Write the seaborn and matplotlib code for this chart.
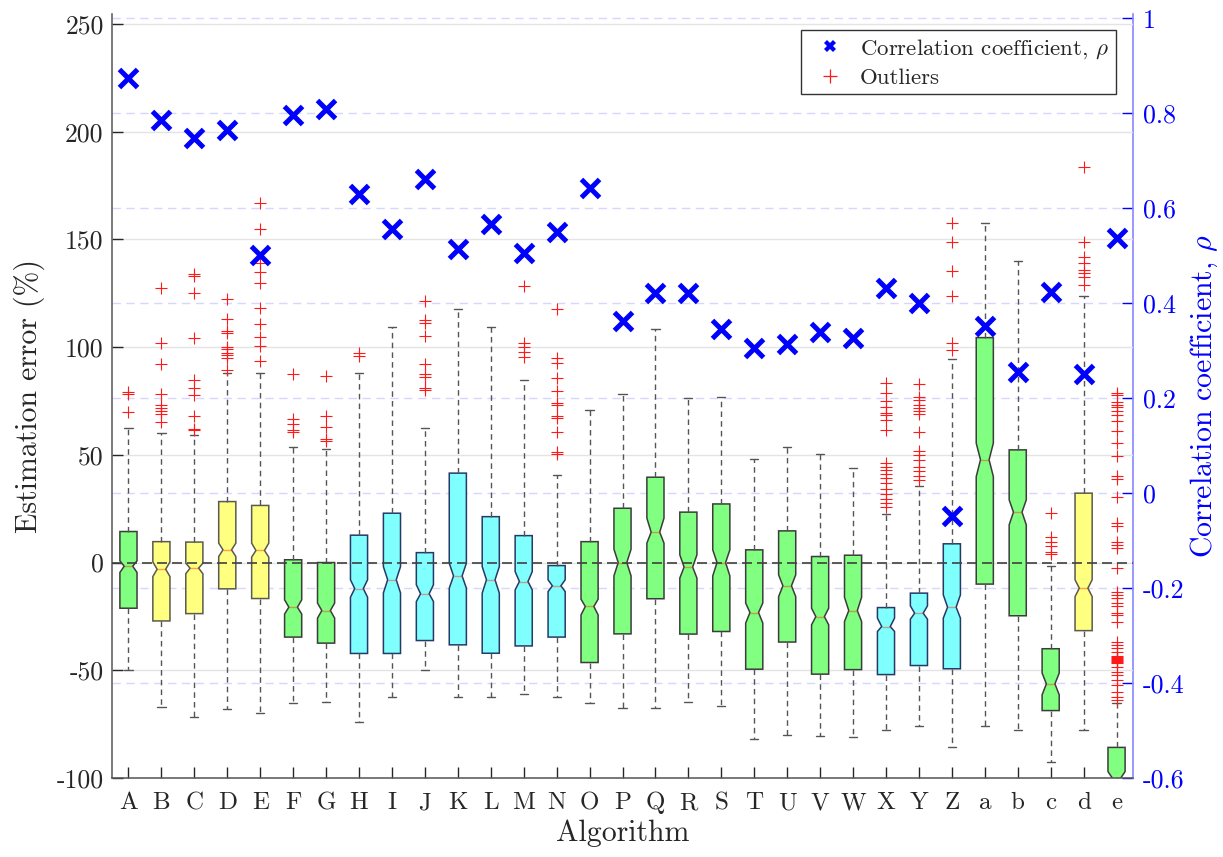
import numpy as np
import matplotlib
matplotlib.use("Agg")
import matplotlib.pyplot as plt
import seaborn as sns
from matplotlib.lines import Line2D

# ---------------- data ----------------
algorithms = list("ABCDEFGHIJKLMNOPQRSTUVWXYZ") + list("abcde")
groups = ["g", "y", "y", "y", "y", "g", "g", "c", "c", "c", "c", "c", "c", "c",
          "g", "g", "g", "g", "g", "g", "g", "g", "g", "c", "c", "c", "g", "g", "g", "y", "g"]

q3 = [14.4, 9.7, 9.5, 28.3, 26.5, 1.3, 0.0, 12.7, 22.9, 4.6, 41.5, 21.3, 12.5, -1.4,
      9.7, 25.2, 39.6, 23.4, 27.2, 5.9, 14.7, 2.8, 3.4, -20.9, -14.2, 8.7,
      104.4, 52.3, -40.0, 32.2, -85.8]
median = [-1.7, -3.1, -2.6, 5.9, 5.6, -20.7, -22.3, -12.1, -8.0, -14.5, -6.2, -8.0, -8.8, -10.8,
          -20.4, 0.0, 14.1, -2.1, 0.0, -23.2, -10.8, -25.1, -22.3, -29.7, -23.5, -20.7,
          47.7, 23.4, -56.3, -11.9, -100.0]
q1 = [-21.2, -27.1, -23.7, -12.2, -16.7, -34.6, -37.4, -42.2, -42.2, -36.2, -38.2, -42.1, -38.7, -34.6,
      -46.4, -33.1, -16.8, -33.2, -32.0, -49.5, -36.9, -51.8, -49.7, -52.0, -47.8, -49.3,
      -10.0, -24.7, -68.7, -31.6, -104.0]
notch_hi = [0.8, 0.3, -0.3, 9.0, 9.0, -17.3, -18.8, -8.0, -1.9, -10.3, -0.3, -1.9, -4.2, -8.0,
            -17.0, 6.2, 20.6, 3.6, 5.9, -18.8, -5.7, -21.2, -16.1, -25.8, -20.1, -15.0,
            55.4, 29.1, -51.3, -8.0, -97.0]
notch_lo = [-4.6, -6.5, -5.2, 2.8, 2.5, -23.9, -25.8, -16.1, -14.1, -18.1, -11.9, -14.2, -12.7, -13.5,
            -24.3, -6.2, 9.0, -7.2, -6.2, -28.1, -15.8, -28.9, -27.4, -32.0, -26.3, -25.8,
            39.9, 17.5, -61.4, -15.8, -103.0]
whisker_lo = [-49.8, -67.1, -71.6, -67.9, -69.9, -65.2, -64.8, -73.8, -62.5, -49.8, -62.2, -62.6, -60.9, -62.2,
              -65.0, -67.6, -67.6, -64.8, -66.8, -81.8, -80.1, -80.7, -81.0, -77.6, -75.8, -85.7,
              -76.0, -77.6, -92.6, -77.6, -105.0]
whisker_hi = [62.4, 60.3, 59.3, 88.2, 87.9, 53.8, 52.8, 88.2, 109.1, 62.4, 117.6, 109.1, 84.5, 40.7,
              70.9, 78.1, 108.4, 76.3, 76.7, 48.1, 53.8, 50.4, 44.1, 22.6, 35.3, 94.5,
              157.8, 140.0, -1.5, 123.8, -65.0]
outliers = [
    [79.2, 78.0, 70.0],
    [127.3, 102.1, 92.1, 78.3, 73.2, 71.9, 70.5, 69.0, 65.4],
    [134.0, 133.1, 125.3, 104.1, 84.5, 80.9, 77.7, 68.2, 62.2, 61.6],
    [122.2, 112.9, 107.5, 106.5, 99.9, 99.0, 97.4, 96.2, 95.0, 89.4],
    [167.0, 155.0, 139.0, 135.0, 129.7, 118.1, 110.8, 104.6, 100.6, 93.6],
    [87.4, 66.5, 64.2, 61.6, 60.8],
    [86.6, 68.1, 63.1, 57.3, 56.6],
    [97.4, 95.9],
    [],
    [121.4, 112.6, 111.4, 105.2, 92.1, 87.4, 86.3, 80.9, 80.1],
    [],
    [],
    [128.5, 102.1, 100.0, 97.5, 95.3],
    [117.6, 94.8, 92.8, 85.6, 79.8, 74.0, 73.2, 68.2, 67.0, 60.5, 51.5, 50.3],
    [], [], [], [], [], [], [], [], [],
    [83.5, 78.6, 75.0, 72.4, 69.3, 68.5, 66.2, 61.6, 46.1, 44.5, 43.0, 41.2, 39.2, 36.9,
     34.1, 31.8, 29.5, 27.5, 26.0],
    [82.9, 77.0, 75.5, 73.2, 71.6, 70.4, 69.0, 60.5, 51.8, 50.0, 47.7, 44.5, 42.6, 40.4, 38.4],
    [157.8, 149.0, 135.2, 123.6, 102.1, 98.7],
    [], [],
    [22.9, 11.8, 9.7, 7.7, 5.1, 3.9],
    [183.8, 149.0, 142.0, 139.2, 135.6, 134.3, 132.7, 128.9],
    [78.6, 77.7, 74.3, 73.2, 72.0, 70.4, 68.4, 65.7, 61.1, 55.4, 49.5, 40.3, 39.0, 30.6,
     18.3, 17.0, 9.7, 8.2, 6.7, -2.6, -13.5, -15.0, -16.6, -18.9, -20.4, -23.5, -24.3, -27.4,
     -36.7, -38.2, -39.7, -41.3, -43.6, -44.0, -44.4, -44.8, -45.2, -45.6, -46.0, -46.7,
     -48.3, -50.6, -52.1, -54.4, -56.8, -59.9, -62.2, -64.0],
]
rho = [0.874, 0.786, 0.748, 0.765, 0.501, 0.796, 0.809, 0.630, 0.556, 0.661, 0.515, 0.566, 0.505, 0.549,
       0.642, 0.362, 0.421, 0.421, 0.346, 0.305, 0.315, 0.339, 0.326, 0.433, 0.401, -0.048,
       0.351, 0.254, 0.423, 0.251, 0.538]

left_ticks = [-100, -50, 0, 50, 100, 150, 200, 250]
rho_ticks = [-0.6, -0.4, -0.2, 0, 0.2, 0.4, 0.6, 0.8, 1]

fill_colors = {"g": "#80FF80", "y": "#FFFF80", "c": "#80FFFF"}
edge_colors = {"g": "#3c3c3c", "y": "#5a5a50", "c": "#263a66"}

# ---------------- style ----------------
sns.set_style("white")
plt.rcParams.update({
    "font.family": ["cmr10", "DejaVu Serif"],
    "mathtext.fontset": "cm",
    "axes.unicode_minus": False,
    "axes.formatter.use_mathtext": True,
})

fig = plt.figure(figsize=(12.23, 8.57), dpi=100)
rect = [112 / 1223, 1 - 778 / 857, (1133 - 112) / 1223, 764 / 857]

ax_r = fig.add_axes(rect)                 # right axis: rho scale + blue grid
ax = fig.add_axes(rect, sharex=ax_r)      # box plots (left scale)
ax_c = fig.add_axes(rect, sharex=ax_r)    # rho markers on top

positions = np.arange(len(algorithms))

# ---- right (rho) axis ----
ax_r.set_ylim(-0.6, 1.009)
ax_r.set_yticks(rho_ticks)
ax_r.set_yticklabels([f"{t:g}" for t in rho_ticks])
ax_r.yaxis.tick_right()
ax_r.yaxis.set_label_position("right")
ax_r.tick_params(axis="y", direction="in", length=8, width=1, colors="#0000FF",
                 labelsize=18.7, pad=7)
ax_r.tick_params(axis="x", bottom=False, labelbottom=False)
ax_r.grid(axis="y", color="#d6d6ff", ls=(0, (6, 4)), lw=1)
ax_r.grid(axis="x", visible=False)
for s in ["left", "top", "bottom"]:
    ax_r.spines[s].set_visible(False)
ax_r.spines["right"].set_color("#8888ff")
ax_r.spines["right"].set_linewidth(1.2)
ax_r.set_ylabel(r"Correlation coefficient, $\rho$", color="#0000FF", fontsize=21.5, labelpad=3)

# ---- box axis ----
ax.patch.set_visible(False)
stats = []
for i in range(len(algorithms)):
    stats.append(dict(med=median[i], q1=q1[i], q3=q3[i], whislo=whisker_lo[i],
                      whishi=whisker_hi[i], cilo=notch_lo[i], cihi=notch_hi[i],
                      fliers=np.array(outliers[i]), label=algorithms[i]))

bp = ax.bxp(stats, positions=positions, widths=0.52, shownotches=True, patch_artist=True,
            showcaps=True, capwidths=0.25, manage_ticks=False,
            boxprops=dict(lw=1.1),
            whiskerprops=dict(color="#555555", ls=(0, (4, 3)), lw=1.0),
            capprops=dict(color="#555555", lw=1.0),
            medianprops=dict(color="#ff3000", alpha=0.45, lw=1.0),
            flierprops=dict(marker="+", markeredgecolor="#ff1a1a", markersize=8.5,
                            markeredgewidth=0.8, ls="none"))
for patch, g in zip(bp["boxes"], groups):
    patch.set_facecolor(fill_colors[g])
    patch.set_edgecolor(edge_colors[g])

ax.axhline(0, color="#404040", ls=(0, (6, 3)), lw=1.2, zorder=5)

ax.set_xlim(-0.5, len(algorithms) - 0.5)
ax.set_ylim(-100, 254.6)
ax.set_yticks(left_ticks)
ax.set_yticklabels([str(t) for t in left_ticks])
ax.set_xticks(positions)
ax.set_xticklabels(algorithms)
ax.grid(axis="y", color="#e4e4e4", lw=1)
ax.grid(axis="x", visible=False)
ax.set_axisbelow(True)
ax.tick_params(axis="y", direction="in", length=8, width=1, colors="#262626",
               labelsize=18.5, pad=6, left=True, right=False, labelright=False, labelleft=True)
ax.tick_params(axis="x", direction="in", length=8, width=1, colors="#262626",
               labelsize=18, pad=10, bottom=True, top=False)
ax.yaxis.set_label_position("left")
ax.yaxis.tick_left()
for s in ["top", "right"]:
    ax.spines[s].set_visible(False)
for s in ["left", "bottom"]:
    ax.spines[s].set_color("#555555")
    ax.spines[s].set_linewidth(1.1)
ax.set_ylabel("Estimation error (%)", fontsize=21.5, color="#262626", labelpad=8)
ax.set_xlabel("Algorithm", fontsize=21.5, color="#262626", labelpad=4)

# ---- rho markers ----
ax_c.patch.set_visible(False)
ax_c.set_ylim(-0.6, 1.009)
sns.scatterplot(x=positions, y=rho, ax=ax_c, marker="x", s=170, color="#0000FF",
                linewidth=3.6, zorder=10, legend=False)
ax_c.set_xlim(-0.5, len(algorithms) - 0.5)
ax_c.axis("off")

handles = [
    Line2D([], [], marker="X", color="#0000FF", ls="none", markersize=9, markeredgewidth=0),
    Line2D([], [], marker="+", color="#ff1a1a", ls="none", markersize=10, markeredgewidth=0.9),
]
leg = ax_c.legend(handles, [r"Correlation coefficient, $\rho$", "Outliers"],
                  loc="upper right", bbox_to_anchor=(1 - 17 / 1021, 1 - 16 / 764),
                  borderaxespad=0, fancybox=False, framealpha=1, edgecolor="#333333",
                  fontsize=16.5, handletextpad=0.3, borderpad=0.3, labelspacing=0.3,
                  handlelength=2.0)
leg.get_frame().set_linewidth(1.0)
leg.set_zorder(20)

fig.savefig("out.png", dpi=100)
